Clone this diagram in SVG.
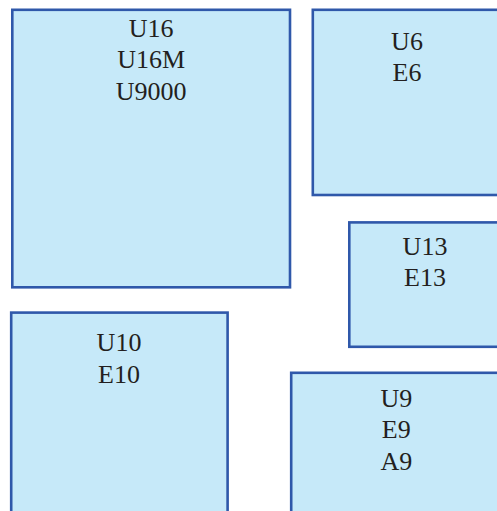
<svg xmlns="http://www.w3.org/2000/svg" width="497" height="511" viewBox="0 0 497 511">
<style>
.box{fill:#c6e9f9;stroke:#2f58aa;stroke-width:2.6}
.t{font-family:"Liberation Serif","Times New Roman",serif;font-size:26px;fill:#231f20;text-anchor:middle}
</style>
<rect width="497" height="511" fill="#ffffff"/>
<g id="node-u16">
<rect class="box" x="12.3" y="9.8" width="277.7" height="277.5"/>
<text class="t" x="151.2" y="36.5">U16</text>
<text class="t" x="151.2" y="68">U16M</text>
<text class="t" x="151.2" y="99.5">U9000</text>
</g>
<g id="node-u6">
<rect class="box" x="312.8" y="9.8" width="189" height="185.2"/>
<text class="t" x="407" y="49.5">U6</text>
<text class="t" x="407" y="81">E6</text>
</g>
<g id="node-u13">
<rect class="box" x="349.3" y="222.4" width="152" height="124.4"/>
<text class="t" x="425" y="254.5">U13</text>
<text class="t" x="425" y="286">E13</text>
</g>
<g id="node-u10">
<rect class="box" x="11.2" y="312.6" width="216.4" height="210"/>
<text class="t" x="119" y="351">U10</text>
<text class="t" x="119" y="382.5">E10</text>
</g>
<g id="node-u9">
<rect class="box" x="291.2" y="372.8" width="210" height="150"/>
<text class="t" x="396.3" y="406.5">U9</text>
<text class="t" x="396.3" y="438">E9</text>
<text class="t" x="396.3" y="469.5">A9</text>
</g>
<g id="connectors"></g>
</svg>
